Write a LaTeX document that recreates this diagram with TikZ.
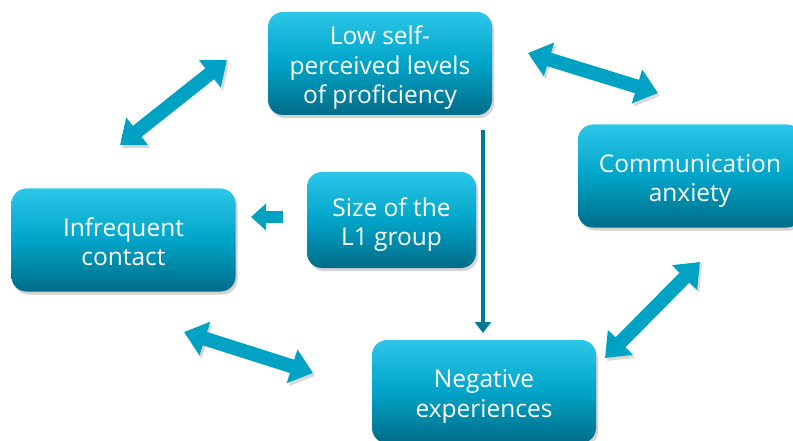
\documentclass[tikz,border=0pt]{standalone}
\usepackage{fontspec}
\setmainfont{Open Sans}
\usetikzlibrary{arrows.meta,shadows}
\definecolor{boxtop}{RGB}{44,198,232}
\definecolor{boxmid}{RGB}{0,164,200}
\definecolor{boxbot}{RGB}{0,108,136}
\definecolor{arrowcol}{RGB}{0,162,196}
\definecolor{thincol}{RGB}{0,120,152}
\newcommand{\boxtext}[1]{\raisebox{-5pt}[\height][\depth]{\begin{tabular}{@{}c@{}}#1\end{tabular}}}
\tikzset{
  box/.style={rounded corners=15pt, top color=boxtop, bottom color=boxbot, middle color=boxmid,
    minimum width=224pt, minimum height=103pt, text=white, inner sep=0pt,
    font=\fontsize{24.5}{29.5}\selectfont,
    drop shadow={opacity=.35, shadow xshift=2pt, shadow yshift=-3pt}},
  bigarrow/.style={draw=arrowcol, line width=14pt,
    {Triangle[length=22pt,width=34pt]}-{Triangle[length=22pt,width=34pt]},
    preaction={draw=black!15, transform canvas={shift={(2pt,-3pt)}}}},
}
\begin{document}
\begin{tikzpicture}[x=1pt,y=-1pt]
  \useasboundingbox (0,0) rectangle (793,441);
  \node[box] (low) at (380,63.5) {\boxtext{Low self-\\perceived levels\\of proficiency}};
  \node[box] (anx) at (690,176) {\boxtext{Communication\\anxiety}};
  \node[box] (inf) at (123.5,240) {\boxtext{Infrequent\\contact}};
  \node[box, minimum width=169pt, minimum height=96pt] (size) at (391.5,220) {\boxtext{Size of the\\L1 group}};
  \node[box] (neg) at (484,391.5) {\boxtext{Negative\\experiences}};

  \coordinate (a1) at (120,145);
  \coordinate (a2) at (227,60);
  \coordinate (b1) at (528,53);
  \coordinate (b2) at (658,93);
  \coordinate (c1) at (700,262);
  \coordinate (c2) at (605,358);
  \coordinate (d1) at (184,332);
  \coordinate (d2) at (313,373);
  \draw[bigarrow] (a1) -- (a2);
  \draw[bigarrow] (b1) -- (b2);
  \draw[bigarrow] (c1) -- (c2);
  \draw[bigarrow] (d1) -- (d2);

  \coordinate (s1) at (283,217);
  \coordinate (s2) at (251,217);
  \draw[draw=arrowcol, line width=12pt, -{Triangle[length=15pt,width=26pt]}] (s1) -- (s2);

  \coordinate (v1) at (483,130);
  \coordinate (v2) at (483,333);
  \draw[draw=thincol, line width=4.5pt, -{Triangle[length=11pt,width=16pt]}] (v1) -- (v2);
\end{tikzpicture}
\end{document}
